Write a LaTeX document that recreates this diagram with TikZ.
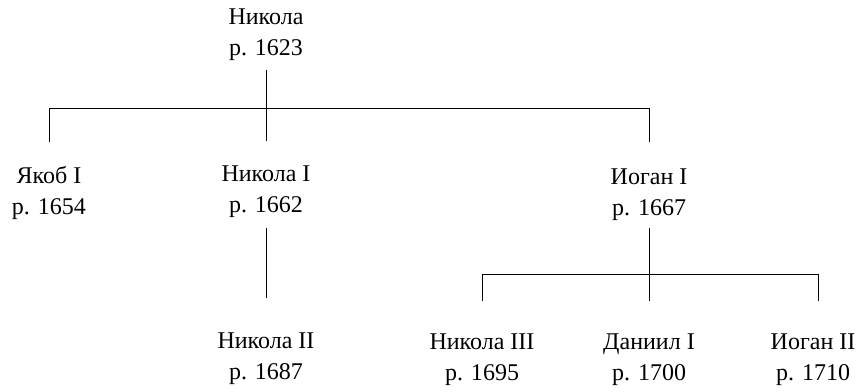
\documentclass[tikz,border=0pt]{standalone}
\usepackage{fontspec}
\setmainfont{Liberation Serif}
\usepackage{tikz}

\begin{document}
\begin{tikzpicture}[x=1pt, y=1pt, every node/.style={font=\fontsize{24}{31}\selectfont}]
\tikzset{person/.style={align=center, inner sep=0pt}}
\tikzset{kid/.style={shorten >=#1}}
\tikzset{link/.style={line width=0.8pt}}
\useasboundingbox (0,0) rectangle (858,391);
\node[person] (nik) at (266,356) {Никола\\р. 1623};
\node[person] (jak) at (49,198.5) {Якоб I\\р. 1654};
\node[person] (nik1) at (266,199.5) {Никола I\\р. 1662};
\node[person] (iog1) at (649,196.5) {Иоган I\\р. 1667};
\node[person] (nik2) at (266,32.5) {Никола II\\р. 1687};
\node[person] (nik3) at (482,31) {Никола III\\р. 1695};
\node[person] (dan) at (649,31) {Даниил I\\р. 1700};
\node[person] (iog2) at (813,31) {Иоган II\\р. 1710};
\coordinate (barA) at (266,283);
\coordinate (barB) at (649,117);
\draw[link, shorten <=9pt] (nik.south) -- (barA);
\draw[link] (jak |- barA) -- (iog1 |- barA);
\draw[link, kid=24pt] (jak |- barA) -- (jak.north);
\draw[link, kid=24pt] (barA) -- (nik1.north);
\draw[link, kid=26pt] (iog1 |- barA) -- (iog1.north);
\draw[link, shorten <=10pt, kid=34pt] (nik1.south) -- (nik2.north);
\draw[link, shorten <=7pt] (iog1.south) -- (barB);
\draw[link] (nik3 |- barB) -- ([xshift=5pt]iog2 |- barB);
\draw[link, kid=33pt] (nik3 |- barB) -- (nik3.north);
\draw[link, kid=33pt] (barB) -- (dan.north);
\draw[link, kid=33pt] ([xshift=5pt]iog2 |- barB) -- ([xshift=5pt]iog2.north);
\end{tikzpicture}
\end{document}
